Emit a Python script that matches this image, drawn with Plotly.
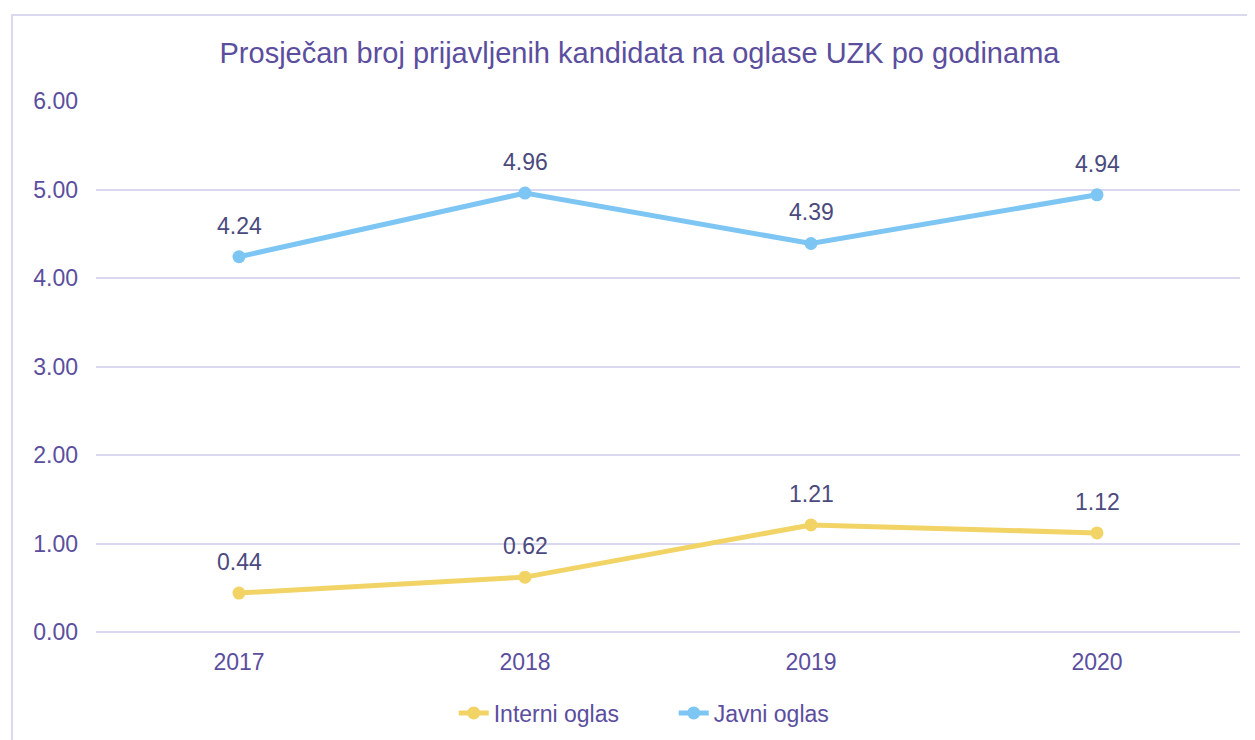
import plotly.graph_objects as go

years = ["2017", "2018", "2019", "2020"]
interni = [0.44, 0.62, 1.21, 1.12]
javni = [4.24, 4.96, 4.39, 4.94]
y_ticks = [0, 1, 2, 3, 4, 5, 6]
y_tick_labels = ["0.00", "1.00", "2.00", "3.00", "4.00", "5.00", "6.00"]

FONT = "Liberation Sans, Arial, sans-serif"
TXT = "#5B4E9E"
LBL = "#4B4A7E"
GRID = "#D9D8EE"

fig = go.Figure()
fig.add_trace(go.Scatter(x=years, y=interni, name="Interni oglas", mode="lines+markers",
                         line=dict(color="#F2D466", width=5), marker=dict(size=13, color="#F2D466")))
fig.add_trace(go.Scatter(x=years, y=javni, name="Javni oglas", mode="lines+markers",
                         line=dict(color="#7DC5F3", width=5), marker=dict(size=13, color="#7DC5F3")))

for series in (interni, javni):
    for i, v in enumerate(series):
        fig.add_annotation(x=i, y=v, xref="x", yref="y", text=f"{v:.2f}", showarrow=False,
                           yshift=31, font=dict(family=FONT, size=23, color=LBL))

fig.add_shape(type="rect", xref="paper", yref="paper", x0=-0.0734, x1=1.2, y0=-0.5, y1=1.162,
              line=dict(color=GRID, width=2), layer="below")

fig.update_layout(
    width=1247, height=732,
    margin=dict(l=88, r=15, t=93, b=108, autoexpand=False),
    paper_bgcolor="white", plot_bgcolor="white",
    font=dict(family=FONT, color=TXT, size=23),
    title=dict(text="Prosječan broj prijavljenih kandidata na oglase UZK po godinama",
               x=0.5064, xanchor="center", xref="container",
               y=1 - 45 / 732, yref="container", yanchor="middle",
               font=dict(family=FONT, size=29, color=TXT)),
    xaxis=dict(type="category", range=[-0.5, 3.5], showgrid=False, showline=False,
               ticks="", ticklabelstandoff=14, tickfont=dict(size=23, color=TXT)),
    yaxis=dict(range=[0, 6], tickvals=y_ticks, ticktext=y_tick_labels, showgrid=True,
               gridcolor=GRID, gridwidth=2, zeroline=True, zerolinecolor=GRID, zerolinewidth=2,
               showline=False, ticks="", ticklabelstandoff=17, tickfont=dict(size=23, color=TXT)),
    legend=dict(orientation="h", x=0.505, xanchor="center", y=-0.1525, yanchor="middle",
                font=dict(family=FONT, size=23, color=TXT), entrywidth=175),
    showlegend=True,
)

fig.write_html("out.html")
